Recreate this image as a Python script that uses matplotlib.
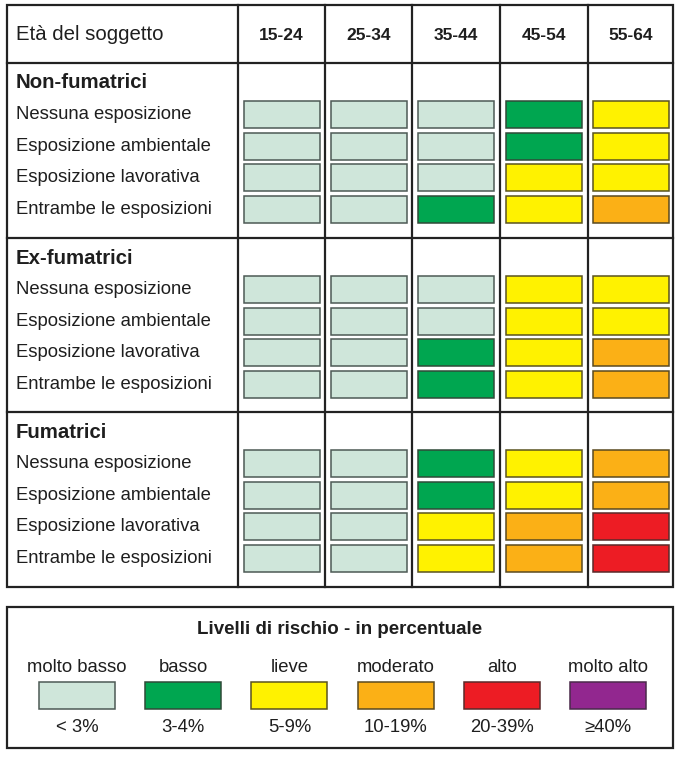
import numpy as np
import matplotlib
matplotlib.use("Agg")
import matplotlib.pyplot as plt
from matplotlib.patches import Rectangle

plt.rcParams["font.family"] = ["Liberation Sans", "DejaVu Sans"]

###############################################################################
# Dati
age_groups = ["15-24", "25-34", "35-44", "45-54", "55-64"]
groups = ["Non-fumatrici", "Ex-fumatrici", "Fumatrici"]
exposures = ["Nessuna esposizione", "Esposizione ambientale",
             "Esposizione lavorativa", "Entrambe le esposizioni"]

# livello di rischio (indice in risk_names) per esposizione x fascia d'eta
risk_non = [[0, 0, 0, 1, 2],
            [0, 0, 0, 1, 2],
            [0, 0, 0, 2, 2],
            [0, 0, 1, 2, 3]]
risk_ex = [[0, 0, 0, 2, 2],
           [0, 0, 0, 2, 2],
           [0, 0, 1, 2, 3],
           [0, 0, 1, 2, 3]]
risk_fum = [[0, 0, 1, 2, 3],
            [0, 0, 1, 2, 3],
            [0, 0, 2, 3, 4],
            [0, 0, 2, 3, 4]]

risk_names = ["molto basso", "basso", "lieve", "moderato", "alto", "molto alto"]
risk_ranges = ["< 3%", "3-4%", "5-9%", "10-19%", "20-39%", "≥40%"]
risk_colors = ["#cfe6da", "#00a650", "#fff200", "#fbb016", "#ed1c24", "#92278f"]
risk_edges = ["#4d5a55", "#2f4a38", "#5a5420", "#5a4a20", "#5a2a2a", "#4a2a4a"]

###############################################################################
# Layout (pixel)
W, H = 682, 758
fig = plt.figure(figsize=(W / 100, H / 100), dpi=100)
ax = fig.add_axes([0, 0, 1, 1])
ax.set_xlim(0, W)
ax.set_ylim(H, 0)
ax.axis("off")

left, right, top = 7, 673, 5
col_edges = [left, 238, 325, 412, 500, 588, right]
header_bottom = 63
sec_tops = [63, 238, 412, 587]
lw = 1.6
txt = "#1e1e1e"

# bordi tabella
ax.add_patch(Rectangle((left, top), right - left, sec_tops[-1] - top,
                       fill=False, lw=lw, ec="#222222"))
for x in col_edges[1:-1]:
    ax.plot([x, x], [top, sec_tops[-1]], color="#222222", lw=lw)
for y in sec_tops[:-1]:
    ax.plot([left, right], [y, y], color="#222222", lw=lw)

ax.text(16, (top + header_bottom) / 2 + 1, "Età del soggetto", fontsize=14.7,
        va="center", ha="left", color=txt)
for j, age in enumerate(age_groups):
    xc = (col_edges[j + 1] + col_edges[j + 2]) / 2
    ax.text(xc, (top + header_bottom) / 2 + 1, age, fontsize=12.5, fontweight="bold",
            va="center", ha="center", color=txt)

cell_w, cell_h, pitch, first = 76, 27, 31.7, 38
for s, (name, risk) in enumerate(zip(groups, [risk_non, risk_ex, risk_fum])):
    y0 = sec_tops[s]
    ax.text(16, y0 + 20, name, fontsize=14.7, fontweight="bold",
            va="center", ha="left", color=txt)
    for i, expo in enumerate(exposures):
        yt = y0 + first + i * pitch
        ax.text(16, yt + cell_h / 2, expo, fontsize=13.3, va="center",
                ha="left", color=txt)
        for j, lvl in enumerate(risk[i]):
            xc = (col_edges[j + 1] + col_edges[j + 2]) / 2
            ax.add_patch(Rectangle((xc - cell_w / 2, yt), cell_w, cell_h,
                                   fc=risk_colors[lvl], ec=risk_edges[lvl], lw=1.1))

###############################################################################
# Legenda
lg_top, lg_bot = 607, 748
ax.add_patch(Rectangle((left, lg_top), right - left, lg_bot - lg_top,
                       fill=False, lw=lw, ec="#222222"))
ax.text((left + right) / 2, 630, "Livelli di rischio - in percentuale",
        fontsize=13.5, fontweight="bold", ha="center", va="center", color=txt)
sw_w, sw_h = 76, 27
for k, (nm, rg, c) in enumerate(zip(risk_names, risk_ranges, risk_colors)):
    xc = 77 + k * 106.2
    ax.text(xc, 668, nm, fontsize=13.3, ha="center", va="center", color=txt)
    ax.add_patch(Rectangle((xc - sw_w / 2, 682), sw_w, sw_h, fc=c,
                           ec=risk_edges[k], lw=1.1))
    ax.text(xc, 727, rg, fontsize=13.3, ha="center", va="center", color=txt)

fig.savefig("out.png", dpi=100)
